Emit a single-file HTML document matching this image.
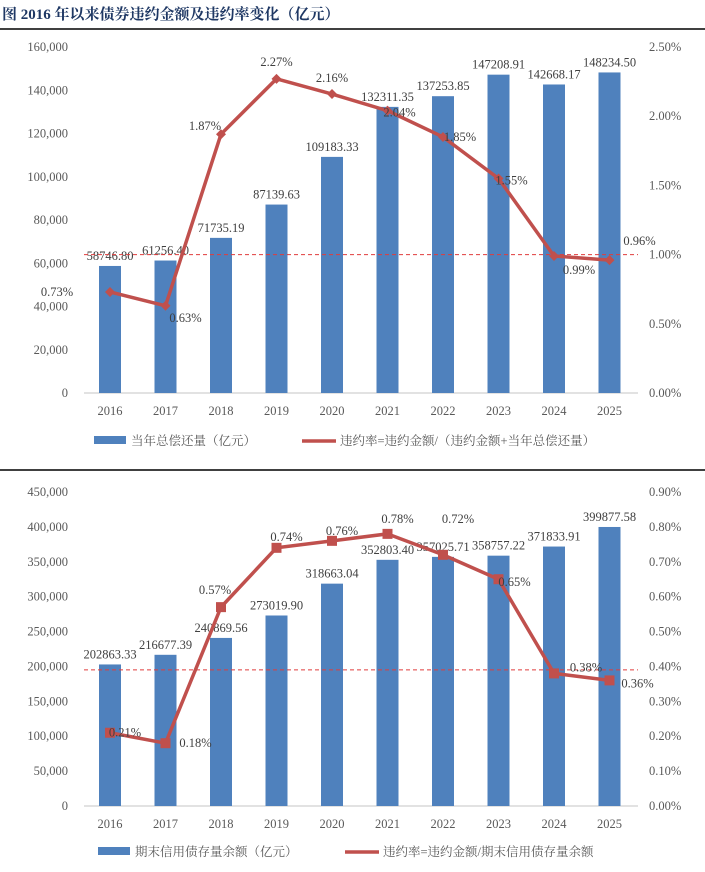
<!DOCTYPE html>
<html><head><meta charset="utf-8"><style>
body{margin:0;background:#fff;width:705px;height:867px;overflow:hidden;font-family:"Liberation Serif","Noto Serif CJK SC",serif}
svg text{font-family:"Liberation Serif","Noto Serif CJK SC",serif}
</style></head><body>
<svg id="s" width="705" height="867">
<text x="2" y="19" font-size="15" font-weight="bold" fill="#1f3864">图  2016 年以来债券违约金额及违约率变化（亿元）</text>
<line x1="0" y1="29" x2="705" y2="29" stroke="#000" stroke-width="1.5"/>
<line x1="0" y1="470" x2="705" y2="470" stroke="#000" stroke-width="1.5"/>
</svg>
<script>
const years=["2016","2017","2018","2019","2020","2021","2022","2023","2024","2025"];
const repay=[58746.80,61256.40,71735.19,87139.63,109183.33,132311.35,137253.85,147208.91,142668.17,148234.50];
const rate1=[0.73,0.63,1.87,2.27,2.16,2.04,1.85,1.55,0.99,0.96];
const leftTicks1=[0,20000,40000,60000,80000,100000,120000,140000,160000];
const rightTicks1=[0,0.5,1.0,1.5,2.0,2.5];
const ref1=1.0;
const stock=[202863.33,216677.39,240869.56,273019.90,318663.04,352803.40,357025.71,358757.22,371833.91,399877.58];
const rate2=[0.21,0.18,0.57,0.74,0.76,0.78,0.72,0.65,0.38,0.36];
const leftTicks2=[0,50000,100000,150000,200000,250000,300000,350000,400000,450000];
const rightTicks2=[0,0.1,0.2,0.3,0.4,0.5,0.6,0.7,0.8,0.9];
const ref2=0.39;
const off1=[[-53,4],[20,16],[-16,-4],[0,-13],[0,-12],[12,6],[17,4],[13,6],[25,18],[30,-15]];
const off2=[[15,4],[30,4],[-6,-13],[10,-7],[10,-6],[10,-11],[15,-32],[16,7],[32,-2],[28,7]];
const svg=document.getElementById('s');const NS="http://www.w3.org/2000/svg";
function el(t,a,txt){const e=document.createElementNS(NS,t);for(const k in a)e.setAttribute(k,a[k]);if(txt!==undefined)e.textContent=txt;svg.appendChild(e);return e;}
function fmt(v){return v.toLocaleString('en-US');}
function draw(c){
 const x=i=>110+i*55.5;
 const yL=v=>c.bottom-(v/c.lmax)*(c.bottom-c.top);
 const yR=v=>c.bottom-(v/c.rmax)*(c.bottom-c.top);
 c.lt.forEach(v=>{const t=el('text',{x:68,y:yL(v)+4,'font-size':12.5,fill:'#595959','text-anchor':'end'},fmt(v));
 });
 c.rt.forEach(v=>{const t=el('text',{x:649,y:yR(v)+4,'font-size':12.5,fill:'#595959'},v.toFixed(2)+'%');
 });
 const ax=el('line',{x1:84,y1:c.bottom,x2:638,y2:c.bottom,stroke:'#d9d9d9','stroke-width':1.5});
 
 years.forEach((y,i)=>{const t=el('text',{x:x(i),y:c.bottom+22,'font-size':12.5,fill:'#595959','text-anchor':'middle'},y);
 });
 c.bars.forEach((v,i)=>{const r=el('rect',{x:x(i)-11,y:yL(v),width:22,height:c.bottom-yL(v),fill:'#4f81bd'});
 
 const t=el('text',{x:x(i),y:yL(v)-6,'font-size':12.5,fill:'#404040','text-anchor':'middle'},v.toFixed(2));
 });
 const rl=el('line',{x1:84,y1:yR(c.ref),x2:638,y2:yR(c.ref),stroke:'#e03c3c','stroke-width':1,'stroke-dasharray':'4,3'});
 
 const pl=el('polyline',{points:c.rate.map((v,i)=>x(i)+','+yR(v)).join(' '),fill:'none',stroke:'#c0504d','stroke-width':3.5});
 
 c.rate.forEach((v,i)=>{const px=x(i),py=yR(v);let m;
 if(c.sq)m=el('rect',{x:px-5,y:py-5,width:10,height:10,fill:'#c0504d'});
 else m=el('polygon',{points:`${px},${py-5} ${px+5},${py} ${px},${py+5} ${px-5},${py}`,fill:'#c0504d'});
 
 const t=el('text',{x:px+c.off[i][0],y:py+c.off[i][1],'font-size':12.5,fill:'#404040','text-anchor':'middle'},v.toFixed(2)+'%');
 });
 const lr=el('rect',{x:c.lx,y:c.ly-5,width:32,height:8,fill:'#4f81bd'});
 
 const lt=el('text',{x:c.lx+37,y:c.ly+4,'font-size':12.5,fill:'#595959'},c.l1);
 
 const ll=el('line',{x1:c.lx2,y1:c.ly,x2:c.lx2+34,y2:c.ly,stroke:'#c0504d','stroke-width':3.5});
 
 const lt2=el('text',{x:c.lx2+38,y:c.ly+4,'font-size':12.5,fill:'#595959'},c.l2);
 
}
draw({top:47,bottom:393,lmax:160000,rmax:2.5,lt:leftTicks1,rt:rightTicks1,bars:repay,rate:rate1,ref:ref1,off:off1,sq:false,lx:94,ly:441,lx2:302,l1:'当年总偿还量（亿元）',l2:'违约率=违约金额/（违约金额+当年总偿还量）'});
draw({top:492,bottom:806,lmax:450000,rmax:0.9,lt:leftTicks2,rt:rightTicks2,bars:stock,rate:rate2,ref:ref2,off:off2,sq:true,lx:98,ly:852,lx2:345,l1:'期末信用债存量余额（亿元）',l2:'违约率=违约金额/期末信用债存量余额'});
</script>
</body></html>
